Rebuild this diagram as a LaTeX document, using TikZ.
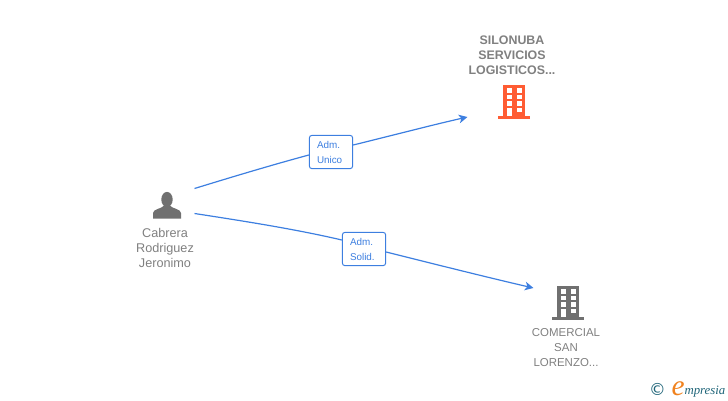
\documentclass[tikz,border=0pt]{standalone}
\usepackage{fontspec}
\setmainfont{Liberation Sans}
\newfontfamily\logofont{Liberation Serif}
\newfontfamily\copyfont{DejaVu Sans}
\usetikzlibrary{arrows.meta}
\definecolor{linkblue}{RGB}{61,127,224}
\definecolor{textgray}{RGB}{128,128,128}
\definecolor{icongray}{RGB}{112,112,112}
\definecolor{iconorange}{RGB}{255,92,51}
\definecolor{logoteal}{RGB}{30,100,120}
\definecolor{logoorange}{RGB}{240,130,30}
\tikzset{
	every picture/.style={line width=0.75pt},
	caption/.style={text=textgray,font=\fontsize{8.6}{11.25}\selectfont,align=center,inner sep=0pt},
	role/.style={draw=linkblue,fill=white,rounded corners=2pt,text=linkblue,text width=21pt,minimum height=25pt,inner xsep=5.75pt,inner ysep=1pt,align=left,font=\fontsize{7.4}{11.25}\selectfont},
	link/.style={draw=linkblue,line width=0.9pt},
	linktip/.style={link,-{Stealth[length=6.5pt,width=6.5pt,inset=1.8pt]}},
	anchorbox/.style={minimum width=40.5pt,minimum height=18pt,inner sep=0pt},
	pics/building/.style={code={
		\fill [#1] (-11,2) rectangle (11,33.5);
		\fill [#1] (-16,0) rectangle (16,2.5);
		\foreach \wy in {26,19.5,13} {
			\fill [white] (-7.5,\wy) rectangle (-2.5,\wy+4.5);
			\fill [white] (2.5,\wy) rectangle (7.5,\wy+4.5);
		}
		\fill [white] (-7.5,2.5) rectangle (-2.5,10.5);
		\fill [white] (2.5,6.5) rectangle (7.5,10.5);
	}},
	pics/person/.style={code={
		\fill [icongray] (0,5.5) ellipse (5.7 and 7.6);
		\fill [icongray] (-14,-13.5) -- (-14,-8) .. controls (-14,-4) and (-5,-3.5) .. (-3.5,-1) -- (3.5,-1) .. controls (5,-3.5) and (14,-4) .. (14,-8) -- (14,-13.5) -- cycle;
	}}
}
\begin{document}
\begin{tikzpicture}[x=0.75pt,y=0.75pt,yscale=-1,xscale=1]
	\useasboundingbox (0,0) rectangle (728,400);

	% Person
	\node [anchorbox] (cabrera) at (167,201) {};
	\pic at (167,205) {person};
	\node [caption,font=\fontsize{9.5}{11.25}\selectfont] (cabreraname) at (165,248) {Cabrera\\Rodriguez\\Jeronimo};

	% Companies
	\pic at (514,118.5) {building={iconorange}};
	\node [caption,font=\fontsize{9.3}{11.25}\selectfont\bfseries] (silonuba) at (512,55) {SILONUBA\\SERVICIOS\\LOGISTICOS...};
	\coordinate (silonubatip) at (467.5,117);
	\pic at (568,319.5) {building={icongray}};
	\node [caption] (comercial) at (566,347.5) {COMERCIAL\\SAN\\LORENZO...};
	\coordinate (comercialtip) at (533.5,288);

	% Roles
	\node [role] (admunico) at (331,152) {Adm.\\Unico};
	\node [role] (admsolid) at (364,249) {Adm.\\Solid.};

	% Links
	\draw [link] (cabrera.north east) .. controls (232,177) and (270,165.5) .. ([yshift=2.25pt]admunico.west);
	\draw [linktip] ([yshift=-5.25pt]admunico.east) .. controls (390,136) and (430,125.5) .. (silonubatip);
	\draw [link] (cabrera.south east) .. controls (240,220.5) and (295,229) .. ([yshift=-6.75pt]admsolid.west);
	\draw [linktip] ([yshift=2.25pt]admsolid.east) .. controls (430,263) and (490,278) .. (comercialtip);

	% Logo
	\node [text=logoteal,font=\copyfont\fontsize{12.5}{12.5}\selectfont,inner sep=0pt] (copy) at (657.5,389) {©};
	\node [text=logoorange,font=\logofont\itshape\fontsize{22}{22}\selectfont,inner sep=0pt,anchor=base west] (logoe) at (671,395) {e};
	\node [text=logoteal,font=\logofont\itshape\fontsize{9.6}{9.6}\selectfont,inner sep=0pt,anchor=base west] (logotext) at (684,394) {mpresia};
\end{tikzpicture}
\end{document}
